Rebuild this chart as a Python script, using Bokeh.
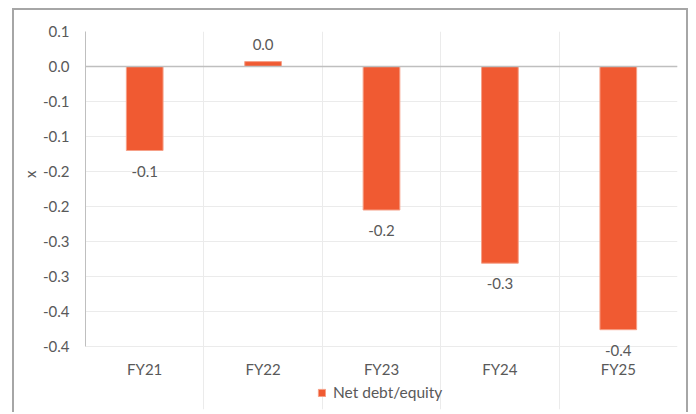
from bokeh.plotting import figure
from bokeh.models import Range1d, FixedTicker, Legend, LegendItem, Span, ColumnDataSource, Title
from bokeh.embed import file_html
from bokeh.resources import INLINE
from bokeh.core.properties import value

categories = ["FY21", "FY22", "FY23", "FY24", "FY25"]
net_debt_equity = [-0.12, 0.007, -0.205, -0.281, -0.376]
y_ticks = [0.05, 0.0, -0.05, -0.1, -0.15, -0.2, -0.25, -0.3, -0.35, -0.4]
y_tick_labels = ["0.1", "0.0", "-0.1", "-0.1", "-0.2", "-0.2", "-0.3", "-0.3", "-0.4", "-0.4"]
series_name = "Net debt/equity"
y_axis_title = "x"

FONT = "Lato"
TXT = "#595959"
BAR = "#F05A32"

y_lo, y_hi = y_ticks[-1], y_ticks[0]
xs = [i + 0.5 for i in range(len(categories))]
labels = [f"{v:.1f}" for v in net_debt_equity]

# frame extended below the value axis so that labels and legend are not clipped
p = figure(width=676, height=404, output_backend="svg", toolbar_location=None,
           x_range=Range1d(0, len(categories)), y_range=Range1d(-0.49, y_hi),
           min_border_left=71, min_border_right=13, min_border_top=21, min_border_bottom=5)
p.margin = (8, 0, 0, 12)
p.styles = {"border-left": "2px solid #A6A6A6", "border-top": "2px solid #A6A6A6",
            "border-right": "2px solid #A6A6A6"}
p.outline_line_color = None
p.background_fill_color = "white"
p.border_fill_color = "white"

src = ColumnDataSource(dict(x=xs, top=net_debt_equity, label=labels))
bars = p.vbar(x="x", top="top", bottom=0, width=0.31, source=src,
              fill_color=BAR, line_color="#F6A088", line_width=1)

p.xaxis.ticker = FixedTicker(ticks=xs)
p.xaxis.major_label_overrides = {x: c for x, c in zip(xs, categories)}
p.xaxis.fixed_location = y_lo
p.xaxis.axis_line_color = None
p.xaxis.major_tick_line_color = None
p.xaxis.minor_tick_line_color = None
p.xaxis.major_tick_out = 0
p.xaxis.major_tick_in = 0
p.xaxis.major_label_standoff = 13
p.xaxis.major_label_text_font = FONT
p.xaxis.major_label_text_font_size = "15px"
p.xaxis.major_label_text_color = TXT

p.yaxis.ticker = FixedTicker(ticks=y_ticks)
p.yaxis.bounds = (y_lo, y_hi)
p.yaxis.major_label_overrides = {t: l for t, l in zip(y_ticks, y_tick_labels)}
p.yaxis.axis_line_color = "#BFBFBF"
p.yaxis.major_tick_line_color = None
p.yaxis.minor_tick_line_color = None
p.yaxis.major_tick_out = 0
p.yaxis.major_tick_in = 0
p.yaxis.major_label_standoff = 16
p.yaxis.major_label_text_font = FONT
p.yaxis.major_label_text_font_size = "15px"
p.yaxis.major_label_text_color = TXT

ytitle = Title(text=y_axis_title, align="right", offset=139, standoff=2,
               text_font=FONT, text_font_size="15px", text_font_style="normal",
               text_color=TXT)
p.add_layout(ytitle, "left")

p.xgrid.ticker = FixedTicker(ticks=list(range(len(categories) + 1)))
p.xgrid.bounds = (y_lo, y_hi)
p.xgrid.grid_line_color = "#EBEBEB"
p.ygrid.grid_line_color = "#EBEBEB"

p.add_layout(Span(location=0, dimension="width", line_color="#BFBFBF", line_width=1.5))

neg = ColumnDataSource(dict(x=[x for x, v in zip(xs, net_debt_equity) if v < 0],
                            y=[v for v in net_debt_equity if v < 0],
                            t=[l for l, v in zip(labels, net_debt_equity) if v < 0]))
pos = ColumnDataSource(dict(x=[x for x, v in zip(xs, net_debt_equity) if v >= 0],
                            y=[v for v in net_debt_equity if v >= 0],
                            t=[l for l, v in zip(labels, net_debt_equity) if v >= 0]))
p.text(x="x", y="y", text="t", source=neg, text_align="center", text_baseline="top",
       y_offset=15, text_font=value(FONT), text_font_size="15px", text_color=TXT)
p.text(x="x", y="y", text="t", source=pos, text_align="center", text_baseline="bottom",
       y_offset=-12, text_font=value(FONT), text_font_size="15px", text_color=TXT)

legend = Legend(items=[LegendItem(label=series_name, renderers=[bars])],
                location=(232, 8), orientation="horizontal",
                border_line_color=None, background_fill_alpha=0,
                label_text_font=FONT, label_text_font_size="15.5px", label_text_color=TXT,
                glyph_width=9, glyph_height=9, padding=0, margin=0, label_standoff=7)
p.add_layout(legend, "center")

open("out.html", "w").write(file_html(p, INLINE))
